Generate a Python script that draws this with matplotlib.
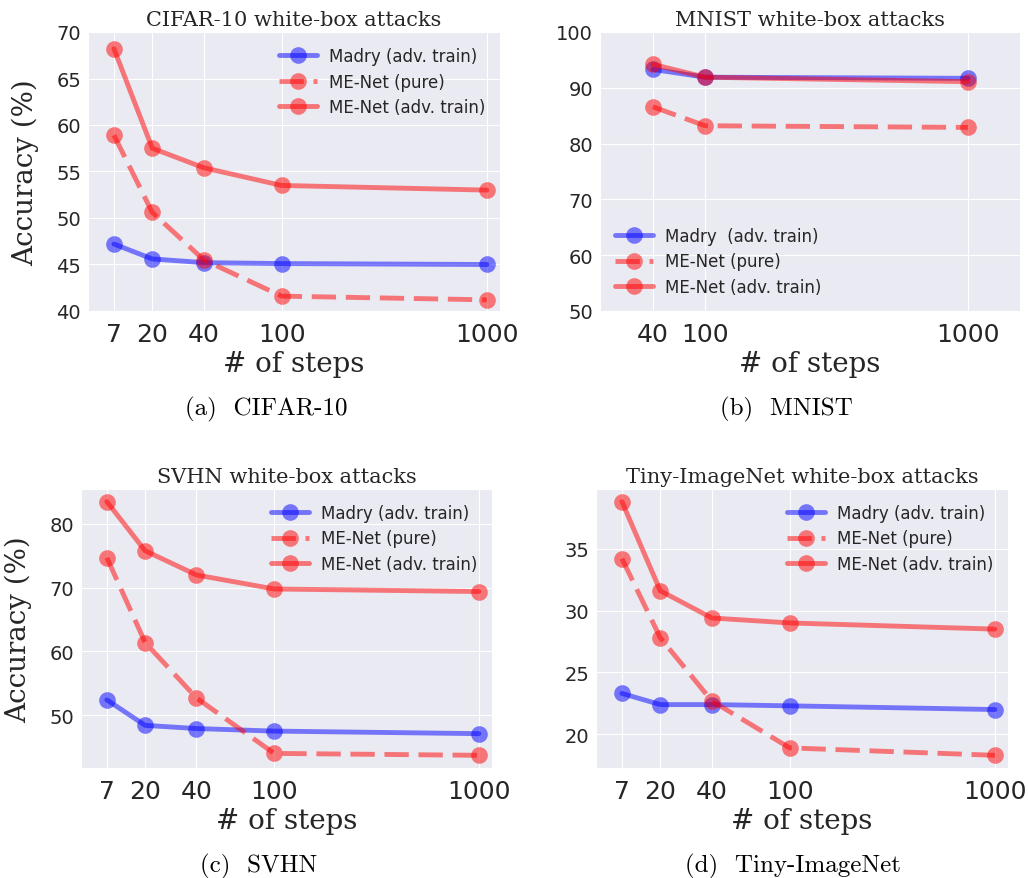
import matplotlib
matplotlib.use('Agg')
import matplotlib.pyplot as plt
import seaborn as sns

sns.set_style('darkgrid')

# attack steps shown on the x axis
steps_long = ['7', '20', '40', '100', '1000']
steps_mnist = ['40', '100', '1000']
# where each step sits along the axis (fraction of axis width)
xpos_long = [0.063, 0.156, 0.281, 0.470, 0.968]
xpos_mnist = [0.126, 0.250, 0.876]

# accuracies (%)
cifar_madry = [47.2, 45.6, 45.2, 45.1, 45.0]
cifar_pure = [58.9, 50.6, 45.5, 41.6, 41.2]
cifar_adv = [68.2, 57.5, 55.4, 53.5, 53.0]

mnist_madry = [93.3, 91.9, 91.7]
mnist_pure = [86.6, 83.2, 82.9]
mnist_adv = [94.2, 91.9, 91.1]

svhn_madry = [52.4, 48.4, 47.9, 47.5, 47.1]
svhn_pure = [74.7, 61.4, 52.7, 44.0, 43.7]
svhn_adv = [83.5, 75.8, 72.0, 69.8, 69.4]

tiny_madry = [23.3, 22.4, 22.4, 22.3, 22.0]
tiny_pure = [34.2, 27.8, 22.7, 18.9, 18.3]
tiny_adv = [38.8, 31.6, 29.4, 29.0, 28.5]

W, H = 1028, 879
fig = plt.figure(figsize=(W / 100, H / 100), dpi=100)


def rect(x0, y0, x1, y1):
    # pixel box -> figure fraction
    return [x0 / W, 1 - y1 / H, (x1 - x0) / W, (y1 - y0) / H]


def panel(ax, xpos, labels, madry, pure, adv, title, madry_label,
          loc, ylim=None, yticks=None, ylabel=False):
    kw = dict(alpha=0.5, lw=3.5, ms=12, marker='o', mew=0)
    ax.plot(xpos, madry, color='b', ls='-', label=madry_label, **kw)
    ax.plot(xpos, pure, color='r', ls='--', dashes=(5, 2), label='ME-Net (pure)', **kw)
    ax.plot(xpos, adv, color='r', ls='-', label='ME-Net (adv. train)', **kw)
    ax.set_xlim(0, 1)
    ax.set_xticks(xpos)
    ax.set_xticklabels(labels)
    if ylim is not None:
        ax.set_ylim(*ylim)
    if yticks is not None:
        ax.set_yticks(yticks)
    ax.tick_params(axis='x', labelsize=18, pad=8, length=0)
    ax.tick_params(axis='y', labelsize=14, pad=5, length=0)
    ax.set_title(title, family='DejaVu Serif', fontsize=15, pad=5)
    ax.set_xlabel('# of steps', family='DejaVu Serif', fontsize=20)
    ax.xaxis.set_label_coords(0.5, -0.14)
    if ylabel:
        ax.set_ylabel('Accuracy (%)', family='DejaVu Serif', fontsize=20)
        ax.yaxis.set_label_coords(-0.118, 0.5)
    ax.legend(loc=loc, fontsize=12, frameon=False, handlelength=2.3,
              handletextpad=0.7, labelspacing=0.45)


ax1 = fig.add_axes(rect(88, 33, 500, 312))
panel(ax1, xpos_long, steps_long, cifar_madry, cifar_pure, cifar_adv,
      'CIFAR-10 white-box attacks', 'Madry (adv. train)', 'upper right',
      ylim=(40, 70), yticks=range(40, 71, 5), ylabel=True)

ax2 = fig.add_axes(rect(600, 33, 1020, 312))
panel(ax2, xpos_mnist, steps_mnist, mnist_madry, mnist_pure, mnist_adv,
      'MNIST white-box attacks', 'Madry  (adv. train)', 'lower left',
      ylim=(50, 100), yticks=range(50, 101, 10))

ax3 = fig.add_axes(rect(81, 490, 492, 769))
panel(ax3, xpos_long, steps_long, svhn_madry, svhn_pure, svhn_adv,
      'SVHN white-box attacks', 'Madry (adv. train)', 'upper right',
      yticks=range(50, 81, 10), ylabel=True)

ax4 = fig.add_axes(rect(596, 490, 1008, 769))
panel(ax4, xpos_long, steps_long, tiny_madry, tiny_pure, tiny_adv,
      'Tiny-ImageNet white-box attacks', 'Madry (adv. train)', 'upper right',
      yticks=range(20, 36, 5))

# sub-figure captions
caps = [('(a)  CIFAR-10', 266, 415), ('(b)  MNIST', 786, 415),
        ('(c)  SVHN', 259, 872), ('(d)  Tiny-ImageNet', 793, 872)]
for txt, cx, cy in caps:
    fig.text(cx / W, 1 - cy / H, txt, ha='center', va='baseline',
             family='cmr10', fontsize=18, color='black')

fig.savefig('out.png', dpi=100, facecolor='white')
